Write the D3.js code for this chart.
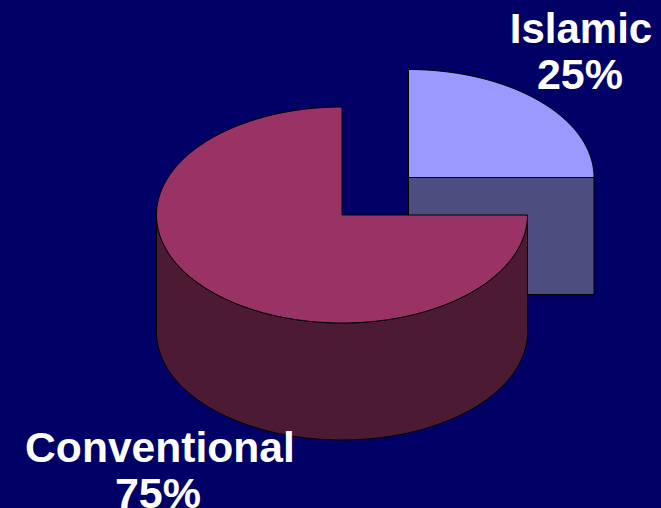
<!DOCTYPE html>
<html>
<head>
<meta charset="utf-8">
<script src="https://cdn.jsdelivr.net/npm/d3@7/dist/d3.min.js"></script>
<style>
  html, body { margin: 0; padding: 0; background: #000066; overflow: hidden; }
  svg { display: block; }
  text { font-family: "Liberation Sans", Arial, sans-serif; font-weight: bold; fill: #ffffff; text-anchor: middle; }
</style>
</head>
<body>
<svg id="chart" width="661" height="508"></svg>
<script>
// Market share by banking type
const categories = ["Islamic", "Conventional"];
const shares = [25, 75];
const shareLabels = ["25%", "75%"];
const topColors = ["#9999ff", "#993366"];
const wallColors = ["#4d4d80", "#4d1a33"];

const width = 661, height = 508;
const radiusX = 185.5, radiusY = 108, depth = 117;
// Pie centre of each slice; the Islamic slice is pulled out of the pie
const centres = [{ x: 408.5, y: 177.5 }, { x: 342, y: 215 }];
const labelPlacement = [
  { nameX: 581, nameY: 43, nameSize: 42, shareX: 580, shareY: 89 },
  { nameX: 160, nameY: 462, nameSize: 42.6, shareX: 158, shareY: 508 }
];

const svg = d3.select("#chart").attr("viewBox", [0, 0, width, height]);

const pie = d3.pie().sort(null).value(d => d);
const slices = pie(shares);

// Unit circle projected to an ellipse, to give the tilted view
const sx = d3.scaleLinear().domain([-1, 1]).range([-radiusX, radiusX]);
const sy = d3.scaleLinear().domain([-1, 1]).range([-radiusY, radiusY]);
const px = a => sx(Math.sin(a));
const py = a => sy(-Math.cos(a));
const step = Math.PI / 180;
const epsilon = 1e-6;

function anglesBetween(a0, a1) {
  const list = d3.range(a0, a1, step);
  list.push(a1);
  return list;
}

const wallArea = d3.area().x(px).y0(py).y1(a => py(a) + depth);
const rimLine = d3.line().x(px).y(py);

slices.forEach((slice, i) => {
  const g = svg.append("g").attr("transform", `translate(${centres[i].x},${centres[i].y})`);

  // Front-facing side: the part of the rim between east and west
  const a0 = Math.max(slice.startAngle, Math.PI / 2);
  const a1 = Math.min(slice.endAngle, 3 * Math.PI / 2);
  if (a1 - a0 > epsilon) {
    g.append("path")
      .attr("d", wallArea(anglesBetween(a0, a1)))
      .attr("fill", wallColors[i])
      .attr("stroke", "#000")
      .attr("stroke-width", 1);
  }

  // Straight cut face, seen where the slice ends on the east side
  if (Math.abs(slice.endAngle - Math.PI / 2) < epsilon) {
    g.append("rect")
      .attr("x", 0).attr("y", 0)
      .attr("width", px(slice.endAngle)).attr("height", depth)
      .attr("fill", wallColors[i])
      .attr("stroke", "#000")
      .attr("stroke-width", 1);
  }

  // Top face
  const rim = rimLine(anglesBetween(slice.startAngle, slice.endAngle));
  g.append("path")
    .attr("d", `M0,0L${rim.slice(1)}Z`)
    .attr("fill", topColors[i])
    .attr("stroke", "#000")
    .attr("stroke-width", 1);
});

// Two-line labels: category name above its share
categories.forEach((name, i) => {
  const p = labelPlacement[i];
  svg.append("text").attr("x", p.nameX).attr("y", p.nameY)
    .style("font-size", `${p.nameSize}px`).text(name);
  svg.append("text").attr("x", p.shareX).attr("y", p.shareY)
    .style("font-size", "43px").text(shareLabels[i]);
});
</script>
</body>
</html>
